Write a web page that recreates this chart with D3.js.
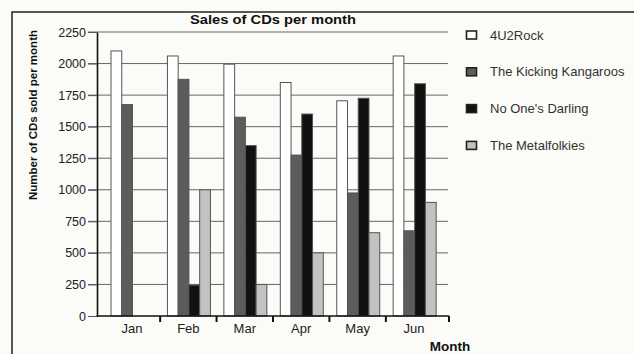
<!DOCTYPE html>
<html>
<head>
<meta charset="utf-8">
<script src="https://cdn.jsdelivr.net/npm/d3@7"></script>
<style>
  html, body { margin: 0; padding: 0; background: #fbfbf7; }
  svg { display: block; font-family: "Liberation Sans", Arial, sans-serif; }
</style>
</head>
<body>
<svg id="chart" width="634" height="354"></svg>
<script>
const months = ["Jan", "Feb", "Mar", "Apr", "May", "Jun"];
const seriesNames = ["4U2Rock", "The Kicking Kangaroos", "No One's Darling", "The Metalfolkies"];
const rock = [2100, 2060, 1995, 1850, 1705, 2060];
const kangaroos = [1675, 1875, 1575, 1275, 975, 675];
const darling = [0, 245, 1350, 1600, 1725, 1840];
const metal = [0, 1000, 250, 500, 660, 900];
const yTicks = [0, 250, 500, 750, 1000, 1250, 1500, 1750, 2000, 2250];
const seriesValues = [rock, kangaroos, darling, metal];
const colors = ["#ffffff", "#5c5c5c", "#111111", "#c2c2c2"];

const svg = d3.select("#chart");

// outer frame
svg.append("rect").attr("x", 12).attr("y", 12).attr("width", 640).attr("height", 360)
  .attr("fill", "#fbfbf7").attr("stroke", "#222").attr("stroke-width", 1.5);

const y = d3.scaleLinear().domain([0, 2250]).range([316, 32]);
const x = d3.scaleBand().domain(months).range([103.7, 442.3]).paddingInner(0).paddingOuter(0);
const x1 = d3.scaleBand().domain(seriesNames).range([7.3, 50.3]).padding(0);

// gridlines
svg.append("g").selectAll("line").data(yTicks.slice(1)).join("line")
  .attr("x1", 88).attr("x2", 448)
  .attr("y1", d => y(d)).attr("y2", d => y(d))
  .attr("stroke", "#666").attr("stroke-width", 1);

// bars
const rows = [];
months.forEach((m, i) => seriesNames.forEach((s, j) => rows.push({ m, s, j, v: seriesValues[j][i] })));
svg.append("g").selectAll("rect").data(rows.filter(d => d.v > 0)).join("rect")
  .attr("x", d => x(d.m) + x1(d.s))
  .attr("y", d => y(d.v))
  .attr("width", x1.bandwidth())
  .attr("height", d => y(0) - y(d.v))
  .attr("fill", d => colors[d.j])
  .attr("stroke", "#555").attr("stroke-width", 1);

// y axis
const yAxis = svg.append("g").attr("transform", "translate(97,0)")
  .call(d3.axisLeft(y).tickValues(yTicks).tickFormat(d3.format("d"))
    .tickSize(9).tickPadding(2).tickSizeOuter(0));
yAxis.select(".domain").attr("stroke", "#111").attr("stroke-width", 1.6);
yAxis.selectAll(".tick line").attr("stroke", "#555");
yAxis.selectAll("text").attr("font-size", 12.5).attr("fill", "#222")
  .attr("font-family", "Liberation Sans, Arial, sans-serif");

// x axis
const xAxis = svg.append("g").attr("transform", "translate(0,316)")
  .call(d3.axisBottom(x).tickSize(0).tickPadding(8));
xAxis.select(".domain").remove();
xAxis.selectAll("text").attr("font-size", 13).attr("fill", "#222")
  .attr("font-family", "Liberation Sans, Arial, sans-serif");
svg.append("line").attr("x1", 96.5).attr("x2", 449).attr("y1", 316).attr("y2", 316)
  .attr("stroke", "#111").attr("stroke-width", 1.6);
const boundaries = months.slice(0, 5).map(m => x(m) + x.bandwidth()).concat([449]);
svg.append("g").selectAll("line").data(boundaries).join("line")
  .attr("x1", d => d).attr("x2", d => d).attr("y1", 316).attr("y2", 322)
  .attr("stroke", "#111").attr("stroke-width", 2);

// title
svg.append("text").attr("x", 273).attr("y", 24).attr("text-anchor", "middle")
  .attr("font-size", 13.5).attr("font-weight", "bold").attr("fill", "#111")
  .attr("textLength", 166).attr("lengthAdjust", "spacingAndGlyphs")
  .text("Sales of CDs per month");

// axis titles
svg.append("text").attr("transform", "translate(36.5,115) rotate(-90)")
  .attr("text-anchor", "middle").attr("font-size", 11.5).attr("font-weight", "bold").attr("fill", "#111")
  .text("Number of CDs sold per month");
svg.append("text").attr("x", 450).attr("y", 351).attr("text-anchor", "middle")
  .attr("font-size", 13.5).attr("font-weight", "bold").attr("fill", "#111")
  .text("Month");

// legend
const legend = svg.append("g").selectAll("g").data(seriesNames).join("g")
  .attr("transform", (d, i) => `translate(466,${35 + i * 36.8})`);
legend.append("rect").attr("x", 0.5).attr("y", -4).attr("width", 10).attr("height", 8)
  .attr("fill", (d, i) => colors[i]).attr("stroke", "#222").attr("stroke-width", 1.6);
legend.append("text").attr("x", 24).attr("y", 4.5).attr("font-size", 13).attr("fill", "#333")
  .text(d => d);
</script>
</body>
</html>
